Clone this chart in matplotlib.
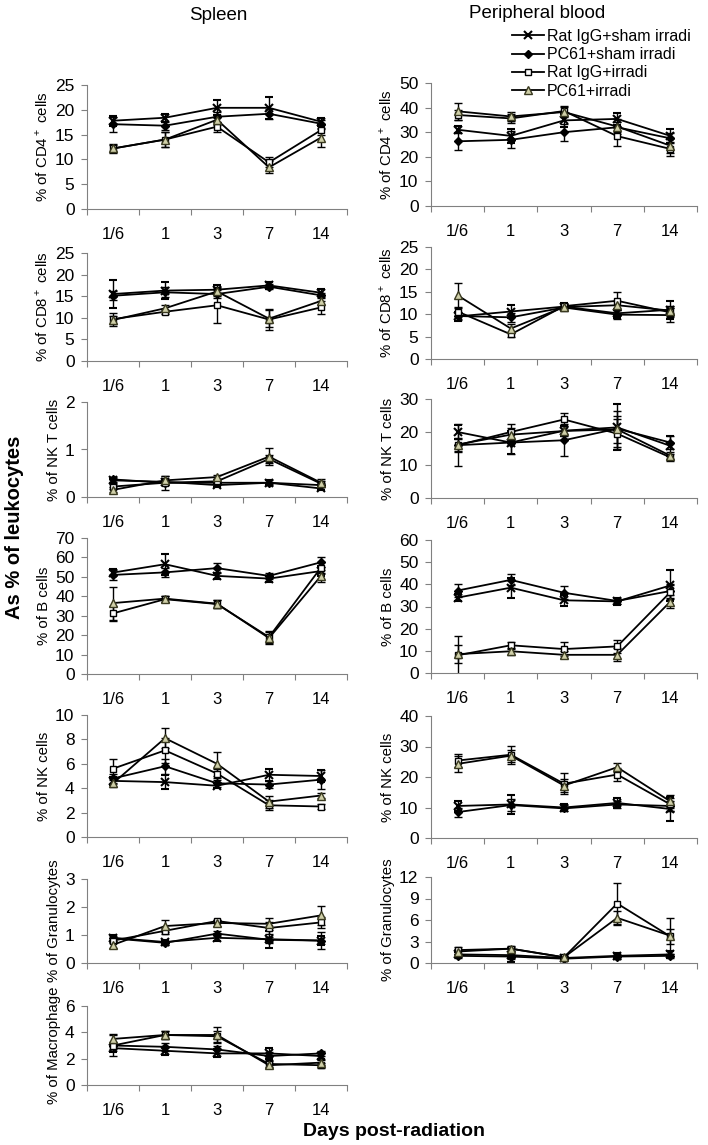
import numpy as np
import matplotlib
matplotlib.use('Agg')
import matplotlib.pyplot as plt
from matplotlib.lines import Line2D

plt.rcParams['font.family'] = ['Liberation Sans', 'DejaVu Sans']
plt.rcParams['mathtext.fontset'] = 'custom'
plt.rcParams['mathtext.rm'] = 'Liberation Sans'

days = ['1/6', '1', '3', '7', '14']
series = ['Rat IgG+sham irradi', 'PC61+sham irradi', 'Rat IgG+irradi', 'PC61+irradi']

# spleen (left column)
sp_cd4 = [[17.8, 18.4, 20.4, 20.4, 17.6], [17.1, 16.8, 18.6, 19.2, 17.2],
          [12.2, 14.0, 16.6, 9.4, 15.9], [12.2, 14.0, 18.0, 8.4, 14.4]]
sp_cd4_err = [[1.0, 0.8, 1.5, 2.2, 0.8], [1.5, 0.8, 1.0, 1.0, 0.8],
              [1.0, 1.5, 1.0, 1.0, 1.0], [0.8, 1.6, 1.0, 1.2, 1.8]]
sp_cd8 = [[15.5, 16.3, 16.5, 17.5, 15.8], [15.1, 15.9, 15.5, 17.2, 15.2],
          [9.7, 11.4, 12.9, 9.6, 12.4], [9.5, 12.2, 16.1, 9.8, 13.9]]
sp_cd8_err = [[3.2, 2.0, 1.0, 0.8, 0.8], [1.0, 1.2, 1.0, 0.6, 0.6],
              [1.5, 0.5, 4.0, 2.5, 1.5], [1.0, 0.8, 1.0, 2.0, 1.0]]
sp_nkt = [[0.35, 0.32, 0.25, 0.30, 0.18], [0.37, 0.30, 0.30, 0.30, 0.25],
          [0.22, 0.30, 0.33, 0.80, 0.28], [0.15, 0.35, 0.42, 0.85, 0.30]]
sp_nkt_err = [[0.05, 0.05, 0.04, 0.05, 0.04], [0.05, 0.05, 0.04, 0.05, 0.05],
              [0.05, 0.15, 0.05, 0.08, 0.05], [0.05, 0.1, 0.05, 0.18, 0.08]]
sp_b = [[52.2, 56.5, 50.5, 49.1, 53.0], [51.0, 52.3, 54.5, 50.5, 57.5],
        [31.2, 38.5, 36.0, 19.0, 54.8], [36.5, 38.8, 36.2, 18.5, 50.5]]
sp_b_err = [[2.0, 5.5, 1.5, 1.5, 2.5], [2.5, 2.5, 2.5, 1.5, 2.5],
            [4.0, 1.5, 2.0, 3.0, 3.0], [8.5, 1.5, 2.0, 3.0, 3.0]]
sp_nk = [[4.6, 4.5, 4.2, 5.1, 5.0], [4.8, 5.8, 4.4, 4.3, 4.7],
         [5.6, 7.1, 5.2, 2.6, 2.5], [4.4, 8.1, 6.0, 2.9, 3.4]]
sp_nk_err = [[0.3, 0.6, 0.2, 0.5, 0.5], [0.4, 0.6, 0.3, 0.3, 0.8],
             [0.8, 1.0, 0.4, 0.4, 0.2], [0.3, 0.8, 1.0, 0.5, 0.2]]
sp_gran = [[0.9, 0.75, 0.9, 0.85, 0.8], [0.88, 0.72, 1.05, 0.83, 0.8],
           [0.8, 1.15, 1.5, 1.25, 1.45], [0.65, 1.32, 1.43, 1.4, 1.7]]
sp_gran_err = [[0.1, 0.08, 0.1, 0.3, 0.15], [0.1, 0.08, 0.1, 0.1, 0.3],
               [0.1, 0.1, 0.05, 0.2, 0.2], [0.1, 0.22, 0.1, 0.22, 0.35]]
sp_mac = [[2.8, 2.6, 2.4, 2.4, 2.2], [3.0, 2.9, 2.7, 2.2, 2.4],
          [3.0, 3.8, 3.7, 1.6, 1.5], [3.5, 3.8, 3.8, 1.5, 1.7]]
sp_mac_err = [[0.3, 0.3, 0.3, 0.4, 0.2], [0.8, 0.3, 0.3, 0.3, 0.2],
              [0.3, 0.3, 0.4, 0.2, 0.2], [0.4, 0.3, 0.6, 0.2, 0.2]]

# peripheral blood (right column)
pb_cd4 = [[31.0, 28.5, 34.8, 35.4, 28.5], [26.3, 26.9, 30.0, 32.0, 27.5],
          [37.0, 35.6, 38.6, 28.4, 23.2], [38.5, 36.4, 38.2, 32.3, 24.5]]
pb_cd4_err = [[1.5, 3.0, 2.5, 2.5, 3.0], [3.5, 3.5, 3.5, 2.0, 2.0],
              [2.0, 2.0, 2.0, 4.0, 3.0], [3.5, 2.0, 2.0, 3.0, 3.0]]
pb_cd8 = [[9.5, 10.6, 11.7, 10.2, 11.0], [9.6, 9.3, 11.5, 9.9, 9.8],
          [10.6, 5.5, 11.8, 13.0, 10.4], [14.2, 6.8, 11.6, 12.0, 10.8]]
pb_cd8_err = [[1.0, 1.5, 0.8, 1.0, 2.0], [1.0, 1.0, 0.8, 1.0, 1.5],
              [1.0, 0.6, 0.5, 2.0, 1.0], [2.8, 1.0, 0.5, 1.0, 1.0]]
pb_nkt = [[20.0, 16.8, 20.4, 21.4, 15.8], [16.0, 16.8, 17.5, 21.0, 16.8],
          [16.0, 20.0, 23.8, 19.5, 12.3], [16.2, 19.2, 20.3, 20.8, 12.8]]
pb_nkt_err = [[2.0, 3.5, 1.5, 7.0, 3.0], [6.3, 3.5, 4.8, 5.5, 2.0],
              [2.0, 2.5, 2.0, 4.5, 1.0], [2.0, 2.0, 1.5, 4.0, 1.0]]
pb_b = [[34.0, 38.5, 32.8, 32.3, 39.5], [37.2, 42.0, 36.2, 32.5, 37.0],
        [8.0, 12.5, 10.8, 12.0, 36.5], [8.5, 9.8, 8.2, 8.2, 32.2]]
pb_b_err = [[1.5, 4.5, 2.5, 1.5, 7.0], [3.0, 2.5, 3.0, 1.5, 3.0],
            [8.5, 1.5, 3.0, 3.0, 3.0], [4.0, 1.5, 1.5, 3.0, 3.0]]
pb_nk = [[10.5, 11.0, 10.0, 11.5, 9.5], [8.5, 10.8, 9.7, 11.0, 10.5],
         [25.4, 27.3, 17.8, 20.8, 11.0], [24.3, 27.0, 17.2, 23.2, 12.0]]
pb_nk_err = [[1.5, 3.0, 1.0, 1.5, 4.0], [1.5, 2.0, 1.0, 1.0, 1.5],
             [2.0, 3.0, 3.5, 2.0, 2.0], [2.5, 2.0, 2.0, 1.5, 2.0]]
pb_gran = [[1.2, 1.1, 0.7, 1.0, 1.2], [1.0, 0.9, 0.6, 0.9, 1.0],
           [1.8, 2.0, 0.8, 8.3, 3.7], [1.6, 2.0, 0.8, 6.3, 3.8]]
pb_gran_err = [[0.3, 1.0, 0.2, 0.4, 0.5], [0.3, 0.4, 0.2, 0.3, 0.3],
               [0.5, 0.4, 0.2, 2.8, 1.0], [0.4, 0.3, 0.2, 1.0, 2.5]]

left_panels = [
    (sp_cd4, sp_cd4_err, '% of CD4$^+$ cells', [0, 5, 10, 15, 20, 25]),
    (sp_cd8, sp_cd8_err, '% of CD8$^+$ cells', [0, 5, 10, 15, 20, 25]),
    (sp_nkt, sp_nkt_err, '% of NK T cells', [0, 1, 2]),
    (sp_b, sp_b_err, '% of B cells', [0, 10, 20, 30, 40, 50, 60, 70]),
    (sp_nk, sp_nk_err, '% of NK cells', [0, 2, 4, 6, 8, 10]),
    (sp_gran, sp_gran_err, '% of Granulocytes', [0, 1, 2, 3]),
    (sp_mac, sp_mac_err, '% of Macrophage', [0, 2, 4, 6]),
]
right_panels = [
    (pb_cd4, pb_cd4_err, '% of CD4$^+$ cells', [0, 10, 20, 30, 40, 50]),
    (pb_cd8, pb_cd8_err, '% of CD8$^+$ cells', [0, 5, 10, 15, 20, 25]),
    (pb_nkt, pb_nkt_err, '% of NK T cells', [0, 10, 20, 30]),
    (pb_b, pb_b_err, '% of B cells', [0, 10, 20, 30, 40, 50, 60]),
    (pb_nk, pb_nk_err, '% of NK cells', [0, 10, 20, 30, 40]),
    (pb_gran, pb_gran_err, '% of Granulocytes', [0, 3, 6, 9, 12]),
]

# pixel boxes (top, bottom) of each panel
W, H = 708, 1145
left_x = (87, 347)
right_x = (431, 697)
left_y = [(85, 209), (253, 361), (402, 497), (538, 674), (715, 837), (879, 963), (1006, 1085)]
right_y = [(83, 206), (247, 359), (399, 498), (540, 673), (716, 838), (877, 963)]

styles = [
    dict(marker='x', mfc='black', mec='black', ms=6, mew=1.5),
    dict(marker='D', mfc='black', mec='black', ms=4.5, mew=1),
    dict(marker='s', mfc='white', mec='black', ms=5, mew=1),
    dict(marker='^', mfc='#cfcfa8', mec='#3a3a20', ms=6, mew=1),
]

fig = plt.figure(figsize=(W / 100, H / 100), dpi=100)
xpos = np.arange(len(days)) + 0.5


def draw(ax, vals, errs, ylabel, yticks):
    for i in range(4):
        ax.errorbar(xpos, vals[i], yerr=errs[i], color='black', lw=1.3,
                    elinewidth=1, capsize=3, capthick=1, **styles[i])
    ax.set_xlim(0, len(days))
    ax.set_ylim(yticks[0], yticks[-1])
    ax.set_yticks(yticks)
    ax.set_xticks(np.arange(len(days) + 1))
    ax.set_xticklabels([])
    ax.set_xticks(xpos, minor=True)
    ax.set_xticklabels(days, minor=True)
    ax.tick_params(axis='x', which='minor', length=0, pad=13, labelsize=12)
    ax.tick_params(axis='x', which='major', length=4, color='#808080', direction='out')
    ax.tick_params(axis='y', length=4, color='#808080', labelsize=12.5, pad=5)
    for s in ['top', 'right']:
        ax.spines[s].set_visible(False)
    for s in ['left', 'bottom']:
        ax.spines[s].set_color('#808080')
    ax.set_ylabel(ylabel, fontsize=10.8, labelpad=3)


def box(xr, yr):
    return [xr[0] / W, 1 - yr[1] / H, (xr[1] - xr[0]) / W, (yr[1] - yr[0]) / H]


for p, yr in zip(left_panels, left_y):
    ax = fig.add_axes(box(left_x, yr))
    draw(ax, *p)
for p, yr in zip(right_panels, right_y):
    ax = fig.add_axes(box(right_x, yr))
    draw(ax, *p)

handles = [Line2D([], [], color='black', lw=1.3, **st) for st in styles]
fig.legend(handles, series, loc='upper left', bbox_to_anchor=(512 / W, 1 - 29 / H),
           frameon=False, fontsize=11.5, handlelength=2.0, handletextpad=0.2,
           labelspacing=0.2, borderaxespad=0, borderpad=0)

fig.text(218 / W, 1 - 15 / H, 'Spleen', ha='center', va='center', fontsize=13.5)
fig.text(537 / W, 1 - 14 / H, 'Peripheral blood', ha='center', va='center', fontsize=13.5)
fig.text(15 / W, 1 - 527 / H, 'As % of leukocytes', ha='center', va='center',
         rotation=90, fontsize=14.5, fontweight='bold')
fig.text(394 / W, 1 - 1131 / H, 'Days post-radiation', ha='center', va='center',
         fontsize=14, fontweight='bold')

fig.savefig('out.png', dpi=100)
